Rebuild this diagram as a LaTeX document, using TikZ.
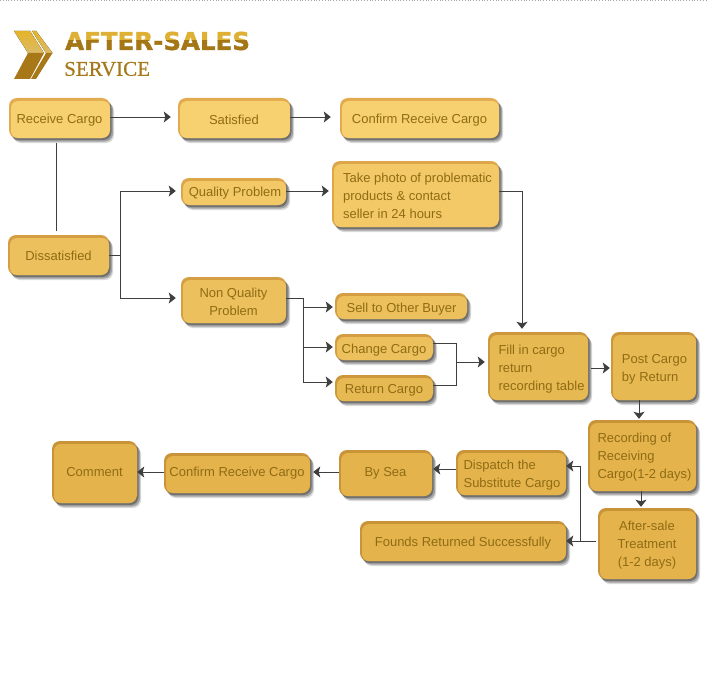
\documentclass[tikz,border=0pt]{standalone}
\usepackage{fontspec}
\setmainfont{Liberation Sans}
\newfontfamily\headfont[FakeBold=0.5]{Liberation Serif}
\newfontfamily\blackfont[UprightFont=* Bold,FakeBold=1.5]{DejaVu Sans}
\usetikzlibrary{shadows,arrows.meta,calc}
\definecolor{txt}{HTML}{8F6C14}
\definecolor{linec}{HTML}{3F3F3F}
\definecolor{rowa}{HTML}{F7D06F}\definecolor{rowab}{HTML}{E3AA4F}
\definecolor{rowb}{HTML}{F2C966}\definecolor{rowbb}{HTML}{DDA648}
\definecolor{rowc}{HTML}{ECC05C}\definecolor{rowcb}{HTML}{D59E42}
\definecolor{rowd}{HTML}{E7B952}\definecolor{rowdb}{HTML}{CD983C}
\definecolor{rowe}{HTML}{E4B34C}\definecolor{roweb}{HTML}{C99338}
\definecolor{goldtop}{HTML}{E4B428}
\definecolor{goldmid}{HTML}{DCBA68}
\definecolor{golddark}{HTML}{A87818}
\definecolor{goldhead}{HTML}{DEB034}
\definecolor{goldlow}{HTML}{A47616}
\definecolor{goldserv}{HTML}{A67A1A}
\tikzset{
  x=1pt,y=-1pt,
  softshadow/.style={
    drop shadow={shadow xshift=4pt,shadow yshift=-5pt,fill=black,opacity=.15},
    drop shadow={shadow xshift=3pt,shadow yshift=-3.5pt,fill=black,opacity=.25},
    drop shadow={shadow xshift=1.5pt,shadow yshift=-2pt,fill=black,opacity=.3}},
  stepbox/.style n args={4}{%
    rectangle,rounded corners=8pt,minimum width=#3,minimum height=#4,
    fill=#2,inner sep=0pt,softshadow,
    path picture={\fill[#1,rounded corners=7pt]
      ($(path picture bounding box.south west)+(2pt,0pt)$) rectangle
      ($(path picture bounding box.north east)+(0pt,-3pt)$);}},
  boxtext/.style={text=txt,font=\fontsize{13}{18}\selectfont,inner sep=0pt},
  ln/.style={draw=linec,line width=1pt},
  arr/.style={ln,-{Stealth[length=7pt,width=11pt,inset=1.5pt]},shorten >=#1},
  arr/.default=1pt,
  headstyle/.style={anchor=west,inner sep=0pt,font=\blackfont\fontsize{24.5}{24.5}\selectfont},
}
\newcommand{\bx}[9]{% name, xmin, ymin, xmax, ymax, row, align, text shift, text
  \pgfmathsetmacro{\bw}{#4-#2}\pgfmathsetmacro{\bh}{#5-#3}
  \node[stepbox={row#6}{row#6b}{\bw pt}{\bh pt}] (#1) at ({(#2+#4)/2},{(#3+#5)/2}) {};
  \node[boxtext,align=#7] (#1-text) at ($(#1)+(#8)$) {#9};}
\begin{document}
\begin{tikzpicture}
\useasboundingbox (0,0) rectangle (708,674);
\fill[white] (0,0) rectangle (708,674);
\draw[gray!70,line width=.8pt,dotted] (0,0.6) -- (708,0.6);
% logo chevrons
\fill[top color=goldtop,bottom color=goldmid]
  (14,31) -- (30,31) -- (44,53) -- (28,53) -- cycle;
\fill[golddark] (28,53) -- (44,53) -- (30,79) -- (14,79) -- cycle;
\fill[top color=goldtop,bottom color=goldmid]
  (32,31) -- (36,31) -- (52.5,53) -- (46,53) -- cycle;
\fill[golddark] (46,53) -- (52.5,53) -- (36,79) -- (31,79) -- cycle;
% heading
\begin{scope}
\clip (60,28) rectangle (255,41);
\node[headstyle,text=goldhead] (headtop) at (65,41) {AFTER-SALES};
\end{scope}
\begin{scope}
\clip (60,41) rectangle (255,55);
\node[headstyle,text=goldlow] (headlow) at (65,41) {AFTER-SALES};
\end{scope}
\node[anchor=west,inner sep=0pt,text=goldserv,font=\headfont\fontsize{21}{21}\selectfont] (service) at (64,69) {SERVICE};
% boxes
\bx{recv}{9}{98}{110}{138}{a}{center}{0,2}{Receive Cargo}
\bx{sat}{178}{98}{290}{138}{a}{center}{0,1.5}{Satisfied}
\bx{conf}{340}{98}{499}{138}{a}{center}{0,2}{Confirm Receive Cargo}
\bx{take}{332}{161}{499}{227}{b}{left}{2,2}{Take photo of problematic\\products \& contact\\seller in 24 hours}
\bx{qual}{181}{178}{286}{205}{b}{center}{1.5,2}{Quality Problem}
\bx{diss}{8}{235}{109}{275}{c}{center}{0,1}{Dissatisfied}
\bx{nonq}{181}{277}{286}{323}{c}{center}{0,2}{Non Quality\\Problem}
\bx{sell}{335}{293}{467}{319}{c}{center}{0.5,3}{Sell to Other Buyer}
\bx{chg}{335}{334}{433}{360}{c}{center}{0,3}{Change Cargo}
\bx{ret}{335}{375}{433}{401}{d}{center}{0,2}{Return Cargo}
\bx{fillt}{488}{332}{588}{400}{d}{left}{3.5,3}{Fill in cargo\\return\\recording table}
\bx{post}{611}{332}{696}{400}{d}{left}{1,3}{Post Cargo\\by Return}
\bx{rec}{588}{420}{696}{491}{e}{left}{2.5,2}{Recording of\\Receiving\\Cargo(1-2 days)}
\bx{disp}{456}{450}{566}{495}{e}{left}{1,3}{Dispatch the\\Substitute Cargo}
\bx{sea}{339}{450}{432}{496}{e}{center}{0,0}{By Sea}
\bx{conb}{164}{453}{310}{493}{e}{center}{0,0}{Confirm Receive Cargo}
\bx{com}{52}{441}{137}{503}{e}{center}{0,0}{Comment}
\bx{aft}{598}{508}{696}{579}{e}{center}{0,2}{After-sale\\Treatment\\(1-2 days)}
\bx{fnd}{360}{521}{566}{561}{e}{center}{0,2}{Founds Returned Successfully}
% junctions and connector levels
\coordinate (jd) at (120,255);
\coordinate (jn) at (303,298);
\coordinate (jr) at (456.5,362);
\coordinate (ja) at (580.5,541);
\coordinate (jt) at (522,191);
\coordinate (toplevel) at (0,117);
\coordinate (qlevel) at (0,191);
\coordinate (selly) at (0,307);
\coordinate (chgy) at (0,347);
\coordinate (rety) at (0,382);
\coordinate (chgout) at (0,343);
\coordinate (retout) at (0,385);
\coordinate (rx) at (56,0);
\coordinate (py) at (0,368);
\coordinate (px) at (639,0);
\coordinate (qx) at (641,0);
\coordinate (dy) at (0,466);
\coordinate (sy) at (0,469);
\coordinate (cy) at (0,472);
% connectors
\draw[arr=7pt] (recv.east |- toplevel) -- (sat.west |- toplevel);
\draw[arr=9pt] (sat.east |- toplevel) -- (conf.west |- toplevel);
\draw[ln,shorten <=5pt,shorten >=4pt] (recv.south -| rx) -- (diss.north -| rx);
\draw[ln] (diss.east |- jd) -- (jd);
\draw[arr=5pt] (jd) |- (qual.west |- qlevel);
\draw[arr=5pt] (jd) |- (nonq.west |- jn);
\draw[arr=3pt] (qual.east |- qlevel) -- (take.west |- qlevel);
\draw[ln] (take.east |- jt) -- (jt);
\draw[arr=3pt] (jt) -- (jt |- fillt.north);
\draw[ln] (nonq.east |- jn) -- (jn);
\draw[arr=2pt] (jn) |- (sell.west |- selly);
\draw[arr=2pt] (jn) |- (chg.west |- chgy);
\draw[arr=2pt] (jn) |- (ret.west |- rety);
\draw[ln] (chg.east |- chgout) -| (jr);
\draw[ln] (ret.east |- retout) -| (jr);
\draw[arr=3pt] (jr) -- (jr -| fillt.west);
\draw[arr=1pt,shorten <=3pt] (fillt.east |- py) -- (post.west |- py);
\draw[arr=1pt] (post.south -| px) -- (rec.north -| px);
\draw[arr=1pt] (rec.south -| qx) -- (aft.north -| qx);
\draw[ln,shorten <=2pt] (aft.west |- ja) -- (ja);
\draw[arr=0pt] (ja) -- (fnd.east |- ja);
\draw[arr=0pt] (ja) |- (disp.east |- dy);
\draw[arr=1pt] (disp.west |- sy) -- (sea.east |- sy);
\draw[arr=3pt] (sea.west |- cy) -- (conb.east |- cy);
\draw[arr=0pt] (conb.west |- cy) -- (com.east |- cy);
\end{tikzpicture}
\end{document}
